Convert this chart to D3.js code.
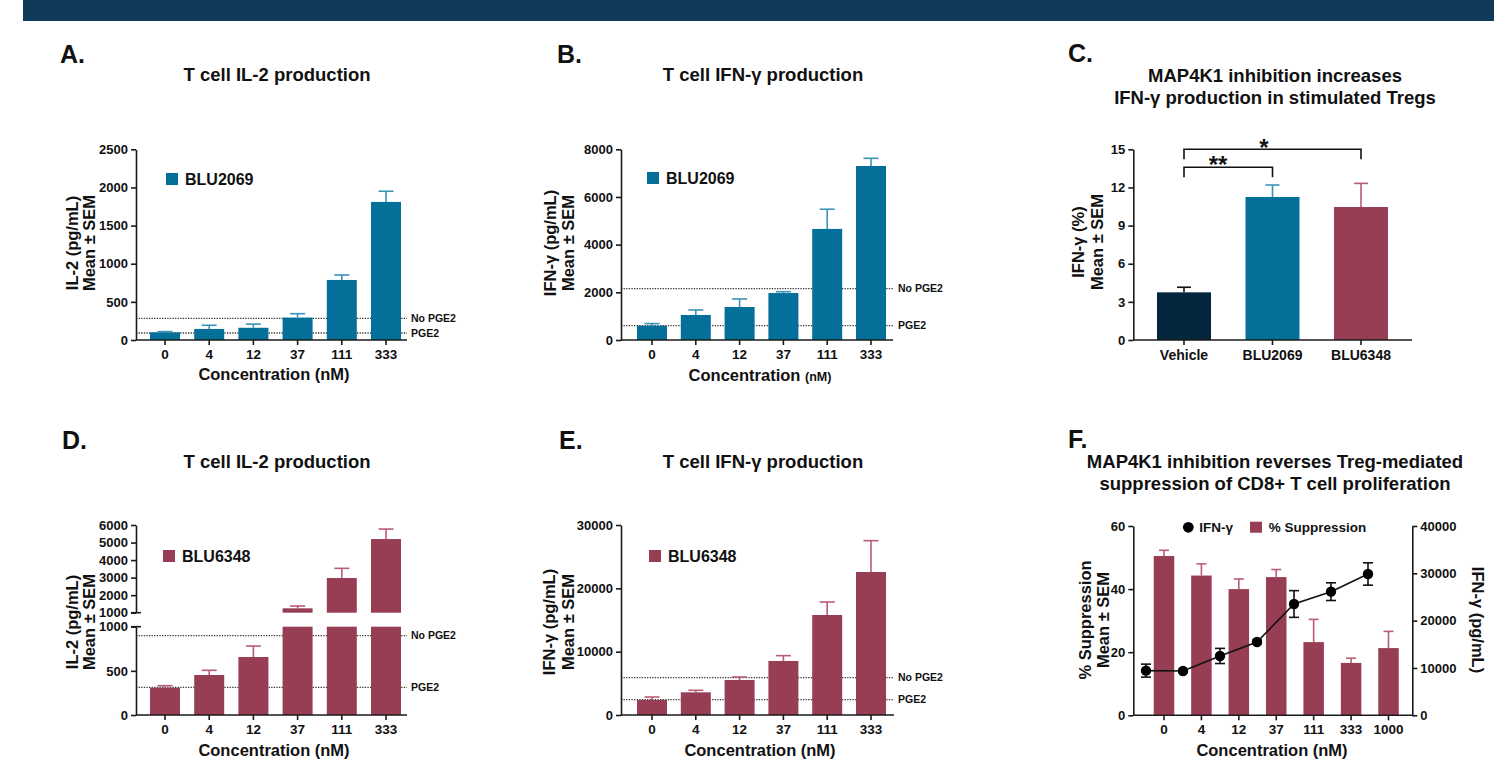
<!DOCTYPE html>
<html lang="en">
<head>
<meta charset="utf-8">
<script src="https://d3js.org/d3.v7.min.js"></script>
<title>MAP4K1 inhibition panels</title>
<style>
    body { margin: 0; background: #fff; }
    svg text { font-family: "Liberation Sans", Arial, sans-serif; font-weight: bold; fill: #111; }
    .axis path, .axis line { stroke: #1a1a1a; stroke-width: 1.6; }
    .axis text { font-size: 13px; }
</style>
</head>
<body>
<div id="container"></div>
<script>
    // ---- data ----
    var conc = ["0", "4", "12", "37", "111", "333"];
    var il2Blu2069 = [100, 145, 160, 293, 787, 1810];
    var il2Blu2069Sem = [10, 48, 48, 52, 65, 140];
    var il2RefA = [284, 92];            // No PGE2, PGE2
    var ifnBlu2069 = [600, 1050, 1385, 1970, 4660, 7300];
    var ifnBlu2069Sem = [90, 210, 335, 56, 826, 322];
    var ifnRefB = [2154, 602];

    var tregGroups = ["Vehicle", "BLU2069", "BLU6348"];
    var tregIfn = [3.75, 11.25, 10.46];
    var tregIfnSem = [0.4, 0.94, 1.86];

    var il2Blu6348 = [309, 453, 657, 1250, 2977, 5200];
    var il2Blu6348Sem = [23, 53, 124, 130, 552, 570];
    var il2RefD = [898, 313];
    var ifnBlu6348 = [2370, 3580, 5530, 8530, 15790, 22580];
    var ifnBlu6348Sem = [470, 320, 470, 840, 2050, 4950];
    var ifnRefE = [5895, 2421];

    var concF = ["0", "4", "12", "37", "111", "333", "1000"];
    var suppression = [50.5, 44.3, 40.0, 43.8, 23.2, 16.6, 21.3];
    var suppressionSem = [1.8, 3.7, 3.2, 2.4, 7.2, 1.5, 5.3];
    var ifnF = [9440, 9370, 12540, 15490, 23520, 26130, 29860];
    var ifnFSem = [1370, 300, 1600, 400, 2820, 1870, 2360];

    var refNames = ["No PGE2", "PGE2"];

    var teal = "#046f98", tealErr = "#3b93ba",
        mauve = "#983e54", mauveErr = "#b95d73",
        navy = "#03253d";
    var fmt = d3.format("d");

    var svg = d3.select("#container").append("svg")
        .attr("width", 1494).attr("height", 765);

    // banner
    svg.append("rect").attr("x", 23).attr("y", 0).attr("width", 1471).attr("height", 21)
        .attr("fill", "#0f3a5a");

    function txt(x, y, s, size, anchor) {
        return svg.append("text").attr("x", x).attr("y", y).text(s)
            .style("font-size", size + "px").attr("text-anchor", anchor || "start");
    }
    function yTitle(x, cy, s, size, rot) {
        return svg.append("text").attr("transform", "translate(" + x + "," + cy + ") rotate(" + (rot || -90) + ")")
            .attr("text-anchor", "middle").attr("dy", "0.35em").style("font-size", (size || 16.5) + "px").text(s);
    }
    function yAxis(scale, x, ticks) {
        return svg.append("g").attr("class", "axis").attr("transform", "translate(" + x + ",0)")
            .call(d3.axisLeft(scale).tickValues(ticks).tickFormat(fmt).tickSize(5).tickPadding(3).tickSizeOuter(0));
    }
    function xAxis(xc, cats, x0, x1, y0, labelY, size) {
        var g = svg.append("g");
        g.append("line").attr("x1", x0).attr("x2", x1).attr("y1", y0).attr("y2", y0)
            .attr("stroke", "#1a1a1a").attr("stroke-width", 1.6);
        g.selectAll(".tk").data(cats).enter().append("line")
            .attr("x1", function(d) { return xc(d); }).attr("x2", function(d) { return xc(d); })
            .attr("y1", y0).attr("y2", y0 + 5).attr("stroke", "#1a1a1a").attr("stroke-width", 1.6);
        g.selectAll(".lb").data(cats).enter().append("text")
            .attr("x", function(d) { return xc(d); }).attr("y", labelY)
            .attr("text-anchor", "middle").style("font-size", (size || 13.5) + "px")
            .text(function(d) { return d; });
    }
    function errBar(x, yTop, yCap, w, color) {
        svg.append("line").attr("x1", x).attr("x2", x).attr("y1", yTop).attr("y2", yCap)
            .attr("stroke", color).attr("stroke-width", 1.6);
        svg.append("line").attr("x1", x - w / 2).attr("x2", x + w / 2).attr("y1", yCap).attr("y2", yCap)
            .attr("stroke", color).attr("stroke-width", 1.6);
    }
    function refLines(y, vals, x0, x1, labelX) {
        vals.forEach(function(v, i) {
            svg.append("line").attr("x1", x0).attr("x2", x1).attr("y1", y(v)).attr("y2", y(v))
                .attr("stroke", "#333").attr("stroke-width", 1.3).attr("stroke-dasharray", "1.3,1.3");
            txt(labelX, y(v), refNames[i], 10.5).attr("dy", "0.35em");
        });
    }
    function legendBox(x, y, color, label) {
        svg.append("rect").attr("x", x).attr("y", y).attr("width", 12).attr("height", 12).attr("fill", color);
        txt(x + 19, y + 11.5, label, 16);
    }

    // simple bar panel (A, B, E)
    function barPanel(o) {
        var xc = d3.scalePoint().domain(o.cats).range([o.c0, o.c1]);
        var y = d3.scaleLinear().domain([0, o.max]).range([o.y0, o.yTop]);
        refLines(y, o.refs, o.ax0, o.ax1, o.refX);
        o.cats.forEach(function(c, i) {
            var v = o.vals[i];
            svg.append("rect").attr("x", xc(c) - 15).attr("width", 30)
                .attr("y", y(v)).attr("height", o.y0 - y(v)).attr("fill", o.color);
            errBar(xc(c), y(v), y(v + o.sems[i]), 15, o.errColor);
        });
        yAxis(y, o.ax0, o.ticks);
        xAxis(xc, o.cats, o.ax0, o.ax1, o.y0, o.y0 + 18.5);
        return { x: xc, y: y };
    }

    // ---- A ----
    txt(60, 63, "A.", 25);
    txt(277, 81, "T cell IL-2 production", 18.5, "middle");
    barPanel({cats: conc, vals: il2Blu2069, sems: il2Blu2069Sem, refs: il2RefA, max: 2500,
        ticks: [0, 500, 1000, 1500, 2000, 2500], c0: 165, c1: 386, ax0: 136, ax1: 407,
        y0: 340, yTop: 149.3, refX: 411, color: teal, errColor: tealErr});
    legendBox(166, 173, teal, "BLU2069");
    yTitle(72, 243, "IL-2 (pg/mL)");
    yTitle(89, 243, "Mean ± SEM");
    txt(274, 380, "Concentration (nM)", 16.5, "middle");

    // ---- B ----
    txt(557, 63, "B.", 25);
    txt(763, 81, "T cell IFN-γ production", 18.5, "middle");
    barPanel({cats: conc, vals: ifnBlu2069, sems: ifnBlu2069Sem, refs: ifnRefB, max: 8000,
        ticks: [0, 2000, 4000, 6000, 8000], c0: 652, c1: 871, ax0: 621, ax1: 893,
        y0: 340, yTop: 149.3, refX: 898, color: teal, errColor: tealErr});
    legendBox(647, 172, teal, "BLU2069");
    yTitle(550, 243, "IFN-γ (pg/mL)");
    yTitle(568, 243, "Mean ± SEM");
    var tB = txt(760, 381, "Concentration ", 16.5, "middle");
    tB.append("tspan").style("font-size", "12.5px").text("(nM)");

    // ---- C ----
    txt(1068, 62, "C.", 25);
    txt(1275, 82, "MAP4K1 inhibition increases", 18.5, "middle");
    txt(1275, 104, "IFN-γ production in stimulated Tregs", 18.5, "middle");
    (function() {
        var xc = d3.scalePoint().domain(tregGroups).range([1184, 1361]);
        var y = d3.scaleLinear().domain([0, 15]).range([340, 149.3]);
        var cols = [navy, teal, mauve], errCols = ["#111", tealErr, mauveErr];
        tregGroups.forEach(function(g, i) {
            var v = tregIfn[i];
            svg.append("rect").attr("x", xc(g) - 27).attr("width", 54)
                .attr("y", y(v)).attr("height", 340 - y(v)).attr("fill", cols[i]);
            errBar(xc(g), y(v), y(v + tregIfnSem[i]), 14, errCols[i]);
        });
        yAxis(y, 1133.3, [0, 3, 6, 9, 12, 15]);
        xAxis(xc, tregGroups, 1133.3, 1412, 340, 359.5, 14);
        // significance brackets
        function bracket(xa, xb, yb, drop) {
            svg.append("path").attr("d", "M" + xa + "," + (yb + drop) + "V" + yb + "H" + xb + "V" + (yb + drop))
                .attr("fill", "none").attr("stroke", "#111").attr("stroke-width", 1.6);
        }
        bracket(xc("Vehicle"), xc("BLU2069"), 167.3, 10);
        bracket(xc("Vehicle"), xc("BLU6348"), 149.3, 10);
        txt(1218, 173, "**", 24, "middle");
        txt(1264, 155.5, "*", 24, "middle");
        yTitle(1078, 242, "IFN-γ (%)");
        yTitle(1097, 242, "Mean ± SEM");
    })();

    // ---- D (broken axis) ----
    txt(62, 449, "D.", 25);
    txt(277, 468, "T cell IL-2 production", 18.5, "middle");
    (function() {
        var xc = d3.scalePoint().domain(conc).range([165, 386]);
        var yLo = d3.scaleLinear().domain([0, 1000]).range([715, 626.7]);
        var yHi = d3.scaleLinear().domain([1000, 6000]).range([612.7, 525]);
        refLines(yLo, il2RefD, 136, 407, 411);
        conc.forEach(function(c, i) {
            var v = il2Blu6348[i], e = il2Blu6348Sem[i];
            var lo = Math.min(v, 1000);
            svg.append("rect").attr("x", xc(c) - 15).attr("width", 30)
                .attr("y", yLo(lo)).attr("height", 715 - yLo(lo)).attr("fill", mauve);
            if (v > 1000) {
                svg.append("rect").attr("x", xc(c) - 15).attr("width", 30)
                    .attr("y", yHi(v)).attr("height", yHi(1000) - yHi(v)).attr("fill", mauve);
                errBar(xc(c), yHi(v), yHi(v + e), 15, mauveErr);
            } else {
                errBar(xc(c), yLo(v), yLo(v + e), 15, mauveErr);
            }
        });
        yAxis(yLo, 136, [0, 500, 1000]);
        yAxis(yHi, 136, [1000, 2000, 3000, 4000, 5000, 6000]);
        [yLo(1000), yHi(1000)].forEach(function(yy) {
            svg.append("line").attr("x1", 131).attr("x2", 141).attr("y1", yy).attr("y2", yy)
                .attr("stroke", "#1a1a1a").attr("stroke-width", 1.6);
        });
        xAxis(xc, conc, 136, 407, 715, 733.5);
        legendBox(163, 550, mauve, "BLU6348");
        yTitle(72, 622, "IL-2 (pg/mL)");
        yTitle(89, 622, "Mean ± SEM");
        txt(274, 756, "Concentration (nM)", 16.5, "middle");
    })();

    // ---- E ----
    txt(559, 449, "E.", 25);
    txt(763, 468, "T cell IFN-γ production", 18.5, "middle");
    barPanel({cats: conc, vals: ifnBlu6348, sems: ifnBlu6348Sem, refs: ifnRefE, max: 30000,
        ticks: [0, 10000, 20000, 30000], c0: 652, c1: 871, ax0: 621, ax1: 894,
        y0: 715, yTop: 525, refX: 898, color: mauve, errColor: mauveErr});
    legendBox(649, 550, mauve, "BLU6348");
    yTitle(549, 622, "IFN-γ (pg/mL)");
    yTitle(568, 622, "Mean ± SEM");
    txt(760, 756, "Concentration (nM)", 16.5, "middle");

    // ---- F (dual axis) ----
    txt(1068, 448, "F.", 25);
    txt(1275, 468, "MAP4K1 inhibition reverses Treg-mediated", 18.5, "middle");
    txt(1275, 490, "suppression of CD8+ T cell proliferation", 18.5, "middle");
    (function() {
        var xc = d3.scalePoint().domain(concF).range([1164, 1388.5]);
        var xp = d3.scalePoint().domain(concF).range([1146, 1368]);
        var yL = d3.scaleLinear().domain([0, 60]).range([715.3, 526]);
        var yR = d3.scaleLinear().domain([0, 40000]).range([715.3, 526]);
        concF.forEach(function(c, i) {
            var v = suppression[i];
            svg.append("rect").attr("x", xc(c) - 10.25).attr("width", 20.5)
                .attr("y", yL(v)).attr("height", 715.3 - yL(v)).attr("fill", mauve);
            errBar(xc(c), yL(v), yL(v + suppressionSem[i]), 10, mauveErr);
        });
        svg.append("path").datum(ifnF)
            .attr("d", d3.line().x(function(d, i) { return xp(concF[i]); }).y(function(d) { return yR(d); }))
            .attr("fill", "none").attr("stroke", "#111").attr("stroke-width", 1.6);
        ifnF.forEach(function(v, i) {
            var x = xp(concF[i]), e = ifnFSem[i];
            svg.append("line").attr("x1", x).attr("x2", x).attr("y1", yR(v - e)).attr("y2", yR(v + e))
                .attr("stroke", "#111").attr("stroke-width", 1.6);
            [v - e, v + e].forEach(function(w) {
                svg.append("line").attr("x1", x - 5).attr("x2", x + 5).attr("y1", yR(w)).attr("y2", yR(w))
                    .attr("stroke", "#111").attr("stroke-width", 1.6);
            });
            svg.append("circle").attr("cx", x).attr("cy", yR(v)).attr("r", 5.2).attr("fill", "#000");
        });
        yAxis(yL, 1133.3, [0, 20, 40, 60]);
        svg.append("g").attr("class", "axis").attr("transform", "translate(1412.3,0)")
            .call(d3.axisRight(yR).tickValues([0, 10000, 20000, 30000, 40000]).tickFormat(fmt)
                .tickSize(5).tickPadding(3).tickSizeOuter(0));
        xAxis(xc, concF, 1133.3, 1412.3, 715.3, 733.5);
        // legend
        svg.append("circle").attr("cx", 1188.3).attr("cy", 527.3).attr("r", 5.4).attr("fill", "#000");
        txt(1199.3, 532, "IFN-γ", 13.5);
        svg.append("rect").attr("x", 1250).attr("y", 521.7).attr("width", 12).attr("height", 11).attr("fill", mauve);
        txt(1268.7, 532, "% Suppression", 13.5);
        yTitle(1085, 620, "% Suppression");
        yTitle(1103, 620, "Mean ± SEM");
        yTitle(1478, 620, "IFN-γ (pg/mL)", 16.5, 90);
        txt(1272, 756, "Concentration (nM)", 16.5, "middle");
    })();
</script>
</body>
</html>
